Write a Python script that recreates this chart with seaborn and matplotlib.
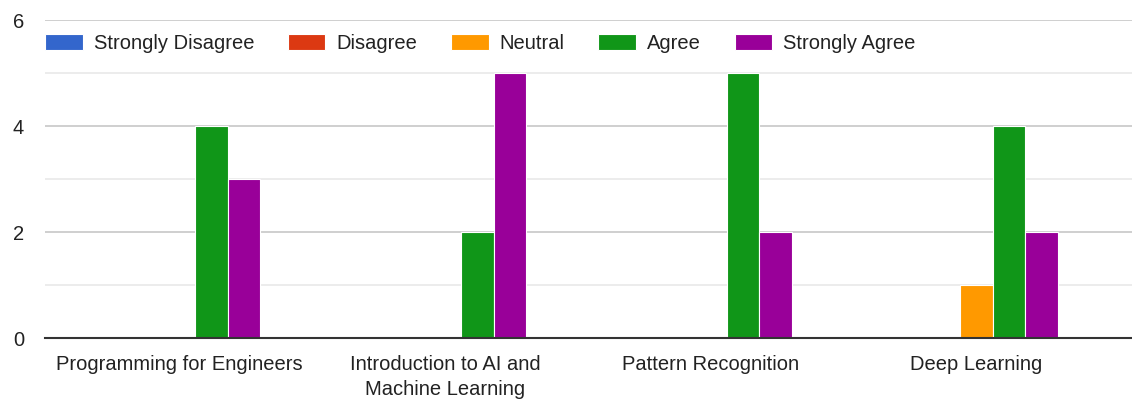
import matplotlib
matplotlib.use("Agg")
import matplotlib.pyplot as plt
import seaborn as sns
import pandas as pd
from matplotlib.ticker import MultipleLocator

courses = [
    "Programming for Engineers",
    "Introduction to AI and\nMachine Learning",
    "Pattern Recognition",
    "Deep Learning",
]
responses = ["Strongly Disagree", "Disagree", "Neutral", "Agree", "Strongly Agree"]

strongly_disagree = [0, 0, 0, 0]
disagree = [0, 0, 0, 0]
neutral = [0, 0, 0, 1]
agree = [4, 2, 5, 4]
strongly_agree = [3, 5, 2, 2]

colors = ["#3366CC", "#DC3912", "#FF9900", "#109618", "#990099"]

series = [strongly_disagree, disagree, neutral, agree, strongly_agree]
rows = []
for resp, vals in zip(responses, series):
    for course, v in zip(courses, vals):
        rows.append({"course": course, "response": resp, "count": v})
df = pd.DataFrame(rows)

sns.set_theme(style="white")
plt.rcParams["font.family"] = ["Liberation Sans", "DejaVu Sans"]

fig = plt.figure(figsize=(11.32, 4.01), dpi=100)
ax = fig.add_axes([45 / 1132, 0.157, 1 - 45 / 1132, 0.793])

sns.barplot(
    data=df, x="course", y="count", hue="response",
    order=courses, hue_order=responses, palette=colors, saturation=1,
    width=0.61, edgecolor="white", linewidth=0.8, ax=ax,
    errorbar=None, legend=True,
)

ax.set_ylim(0, 6)
ax.set_xlim(-0.505, 3.585)
ax.yaxis.set_major_locator(MultipleLocator(2))
ax.yaxis.set_minor_locator(MultipleLocator(1))
ax.grid(which="major", axis="y", color="#cccccc", linewidth=1.3)
ax.grid(which="minor", axis="y", color="#ebebeb", linewidth=1.3)
ax.set_axisbelow(True)
for side in ["top", "right", "left"]:
    ax.spines[side].set_visible(False)
ax.spines["bottom"].set_color("#333333")
ax.spines["bottom"].set_linewidth(1.5)

ax.set_xlabel("")
ax.set_ylabel("")
ax.tick_params(axis="y", which="both", length=0, pad=15, labelsize=14.5, labelcolor="#222222")
ax.tick_params(axis="x", length=0, pad=12, labelsize=14.5, labelcolor="#222222")
for lbl in ax.get_xticklabels():
    lbl.set_linespacing(1.4)

handles, labels = ax.get_legend_handles_labels()
ax.legend(
    handles, labels, loc="upper left", bbox_to_anchor=(-0.0075, 0.982),
    ncol=5, frameon=False, fontsize=14.5, handlelength=1.87,
    handleheight=0.84, handletextpad=0.55, columnspacing=1.67,
    labelcolor="#222222", borderaxespad=0,
)

fig.savefig("out.png", dpi=100, facecolor="white")
